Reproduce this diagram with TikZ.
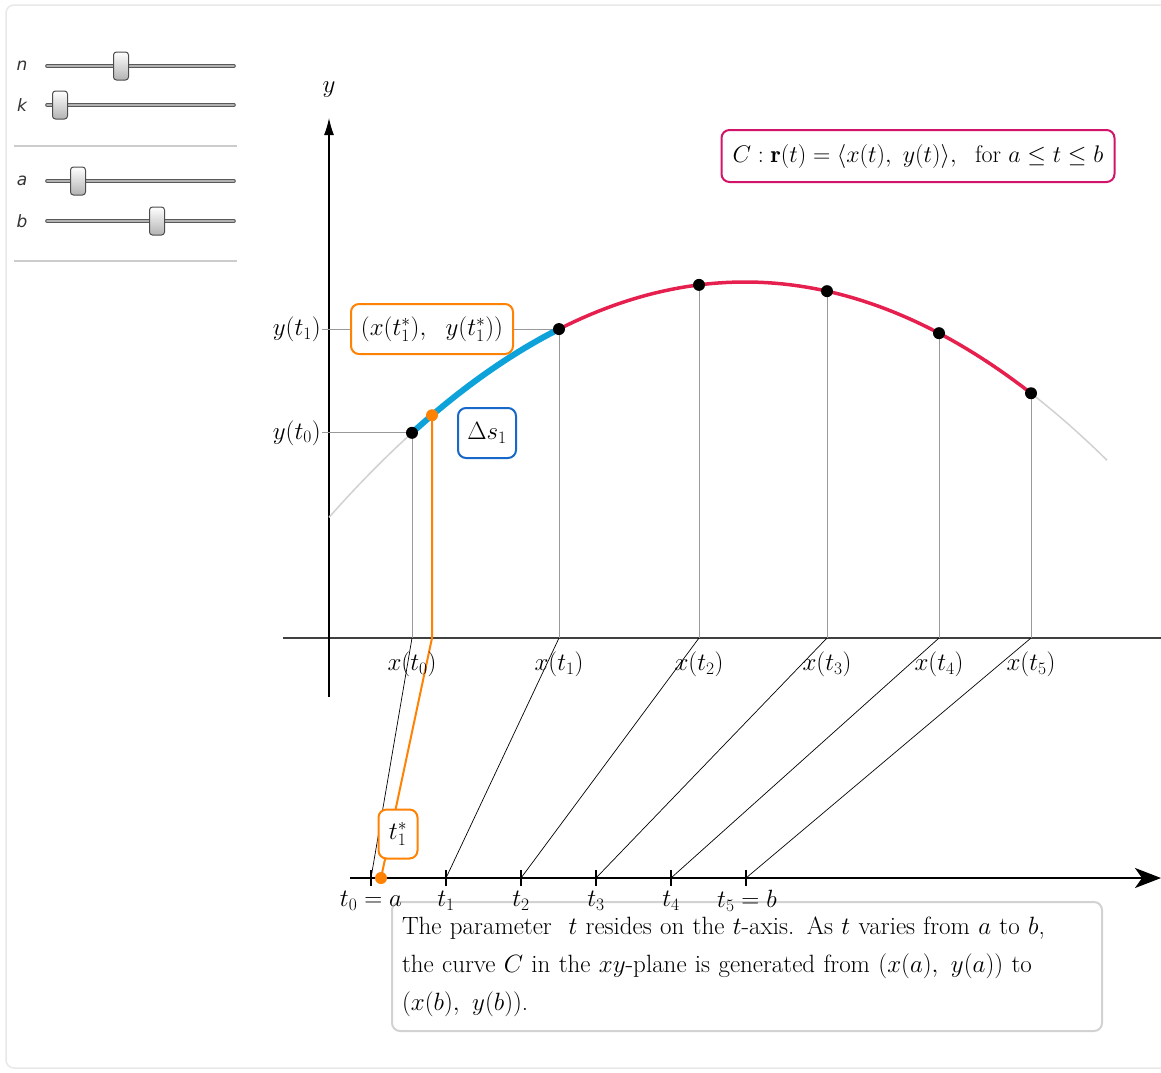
\RequirePackage{fix-cm}
\documentclass[tikz,border=0pt]{standalone}
\usepackage{amsmath}
\usepackage{amssymb}
\usepackage{fontspec}
\newfontfamily\sliderfont{DejaVu Sans}
\usepackage{tikz}
\usetikzlibrary{arrows.meta, positioning, calc}
\definecolor{curvered}{HTML}{E6204E}
\definecolor{arcblue}{HTML}{0EA2DB}
\definecolor{starorange}{HTML}{FF8205}
\definecolor{formulapink}{HTML}{D1146A}
\definecolor{deltablue}{HTML}{1768C8}
\definecolor{framegray}{HTML}{E8E8E8}
\definecolor{boxgray}{HTML}{D2D2D2}

\begin{document}
\begin{tikzpicture}[
    x=1pt, y=-1pt,
    every node/.style={font=\fontsize{25}{30}\selectfont},
    tagbox/.style={draw, rounded corners=8pt, fill=white, line width=2pt, inner sep=0pt},
    desc/.style={draw=boxgray, rounded corners=8pt, fill=white, line width=2pt, align=left,
        text width=690pt, minimum height=129pt, inner xsep=10pt, inner ysep=12pt, anchor=north west,
        font=\fontsize{25}{38}\selectfont},
    dot/.style={circle, fill=black, inner sep=0pt, minimum size=12pt},
    stardot/.style={circle, fill=starorange, inner sep=0pt, minimum size=12pt},
    guide/.style={gray!80, line width=0.8pt},
    slant/.style={black, line width=0.7pt},
    axis/.style={black!75, line width=1.2pt},
    sliderlbl/.style={font=\fontsize{17}{19}\selectfont\sliderfont\itshape, text=black!80},
    track/.style={draw=black!65, double=black!30, double distance=1.6pt, line width=1pt, line cap=round},
    thumb/.style={draw=black!70, rounded corners=3pt, top color=white, bottom color=black!30,
        minimum width=15pt, minimum height=28pt, inner sep=0pt, line width=1pt}
]
    \useasboundingbox (0,0) rectangle (1161,1072);
    \draw[framegray, line width=1.5pt, rounded corners=8pt] (6,5) rectangle (1180,1068);

    \foreach \s/\ypos/\tx in {n/66/121, k/105/60, a/181/78, b/221/157} {
        \node[sliderlbl] (lbl\s) at (22,\ypos) {\s};
        \draw[track] (47,\ypos) -- (234,\ypos);
        \node[thumb] (thumb\s) at (\tx,\ypos) {};
    }
    \draw[black!20, line width=1.2pt] (14,146) -- (237,146);
    \draw[black!20, line width=1.2pt] (14,261) -- (237,261);

    \coordinate (yfoot) at (329,697);
    \coordinate (ytip) at (329,118);
    \coordinate (xleft) at (283,638);
    \coordinate (xright) at (1161,638);
    \coordinate (tleft) at (350,878);
    \coordinate (tright) at (1161,878);

    \draw[axis] (xleft) -- (xright);
    \draw[black, line width=1.2pt, -{Latex[length=17pt, width=10pt]}] (yfoot) -- (ytip);
    \node (ylbl) at (329,90) {$y$};

    \foreach \i/\px/\tx in {0/412/371, 1/559/446, 2/699/521, 3/827/596, 4/939/671, 5/1031/746} {
        \coordinate (P\i) at (\px,{282+13.6*((\px-745)/100)^2});
        \coordinate (X\i) at (\px,638);
        \coordinate (T\i) at (\tx,878);
    }
    \coordinate (S) at (432,{282+13.6*((432-745)/100)^2});
    \coordinate (SX) at (432,638);
    \coordinate (ST) at (381,878);
    \coordinate (Y0) at (322,0 |- P0);
    \coordinate (Y1) at (322,0 |- P1);

    \draw[guide] (Y0) -- (P0);
    \draw[guide] (Y1) -- (P1);
    \foreach \i in {0,...,5} {
        \draw[guide] (P\i) -- (X\i);
        \draw[slant] (X\i) -- (T\i);
        \draw[black, line width=1.3pt] ($(T\i)+(0,-8)$) -- ($(T\i)+(0,8)$);
    }

    \draw[black!18, line width=1.5pt] plot[domain=329:1107, samples=80] (\x,{282+13.6*((\x-745)/100)^2});
    \draw[curvered, line width=3.5pt] plot[domain=559:1031, samples=60] (\x,{282+13.6*((\x-745)/100)^2});
    \draw[arcblue, line width=6pt] plot[domain=412:559, samples=30] (\x,{282+13.6*((\x-745)/100)^2});

    \draw[starorange, line width=2pt] (S) -- (SX) -- (ST);
    \draw[black, line width=2pt, -{Stealth[length=26pt, width=20pt, inset=7pt]}] (tleft) -- (tright);

    \node[desc] (note) at (391,901)
        {The parameter \ $t$ resides on the $t$-axis. As $t$ varies from $a$ to $b$,\\
         the curve $C$ in the $xy$-plane is generated from $(x(a),\ y(a))$ to\\
         $(x(b),\ y(b))$.};

    \foreach \i in {0,...,5} {
        \node[dot] (dot\i) at (P\i) {};
        \node (xl\i) at ($(X\i)+(0,26)$) {$x(t_{\i})$};
    }
    \node[stardot] (sdot) at (S) {};
    \node[stardot] (stdot) at (ST) {};

    \node[anchor=east, inner sep=1pt] (yl0) at (Y0) {$y(t_0)$};
    \node[anchor=east, inner sep=1pt] (yl1) at (Y1) {$y(t_1)$};

    \node (tl0) at (371,901) {$t_0=a$};
    \node (tl1) at (446,901) {$t_1$};
    \node (tl2) at (521,901) {$t_2$};
    \node (tl3) at (596,901) {$t_3$};
    \node (tl4) at (671,901) {$t_4$};
    \node (tl5) at (747,901) {$t_5=b$};

    \node[tagbox, draw=starorange, minimum width=162pt, minimum height=50pt] (startag) at (432,329)
        {$(x(t_1^*),\ \ y(t_1^*))$};
    \node[tagbox, draw=deltablue, minimum width=58pt, minimum height=50pt] (dstag) at (487,433)
        {$\Delta s_1$};
    \node[tagbox, draw=starorange, minimum width=39pt, minimum height=49pt] (ttag) at (398,834)
        {$t_1^*$};
    \node[tagbox, draw=formulapink, minimum width=393pt, minimum height=52pt, font=\fontsize{24}{28}\selectfont] (formula) at (918,156)
        {$C:\mathbf{r}(t)=\langle x(t),\ y(t)\rangle,\ \ \mathrm{for}\ a\le t\le b$};
\end{tikzpicture}
\end{document}
